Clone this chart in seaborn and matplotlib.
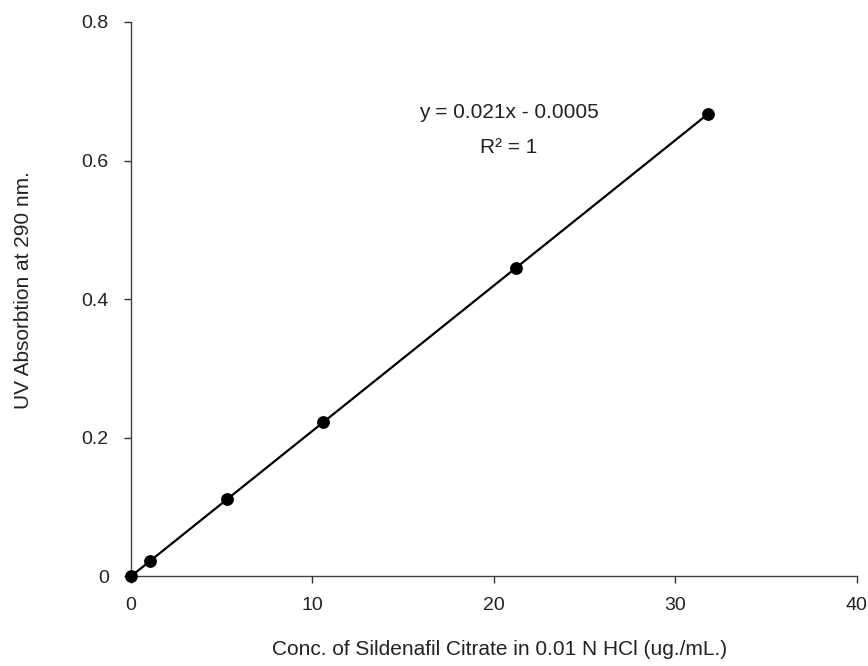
import matplotlib
matplotlib.use("Agg")
import matplotlib.pyplot as plt
import seaborn as sns
import numpy as np
import pandas as pd

# Calibration data
conc = [0, 1.06, 5.3, 10.6, 21.2, 31.8]
absorb = [0, 0.022, 0.111, 0.222, 0.445, 0.667]
x_ticks = [0, 10, 20, 30, 40]
y_ticks = [0, 0.2, 0.4, 0.6, 0.8]
y_tick_labels = ["0", "0.2", "0.4", "0.6", "0.8"]
equation = "y = 0.021x - 0.0005"
r2_text = "R² = 1"

sns.set_style("ticks")
plt.rcParams['font.family'] = ['Liberation Sans', 'DejaVu Sans']

df = pd.DataFrame({'conc': conc, 'abs': absorb})

fig = plt.figure(figsize=(8.68, 6.66), dpi=100)
ax = fig.add_axes([0.151, 0.135, 0.836, 0.832])

sns.regplot(data=df, x='conc', y='abs', ci=None, ax=ax, color='black',
            scatter_kws={'s': 85, 'alpha': 1, 'zorder': 3, 'linewidths': 0},
            line_kws={'linewidth': 1.6})

ax.set_xlim(0, 40)
ax.set_ylim(0, 0.8)
ax.set_xticks(x_ticks)
ax.set_xticklabels([str(t) for t in x_ticks])
ax.set_yticks(y_ticks)
ax.set_yticklabels(y_tick_labels)
ax.tick_params(axis='both', labelsize=14, length=5, width=1, color='#333333',
               colors='#222222')
ax.tick_params(axis='x', pad=10)
ax.tick_params(axis='y', pad=11)
for side in ['left', 'bottom']:
    ax.spines[side].set_color('#404040')
    ax.spines[side].set_linewidth(1)
sns.despine(ax=ax)

ax.set_xlabel('Conc. of Sildenafil Citrate in 0.01 N HCl (ug./mL.)', fontsize=15,
              color='#222222')
ax.xaxis.set_label_coords(0.508, -0.115)
ax.set_ylabel('UV Absorbtion at 290 nm.', fontsize=15, color='#222222')
ax.yaxis.set_label_coords(-0.135, 0.516)

ax.text(20.8, 0.669, equation, ha='center', va='center', fontsize=15, color='#222222')
ax.text(20.8, 0.619, r2_text, ha='center', va='center', fontsize=15, color='#222222')

for coll in ax.collections:
    coll.set_clip_on(False)

fig.savefig('out.png', dpi=100)
plt.close(fig)
